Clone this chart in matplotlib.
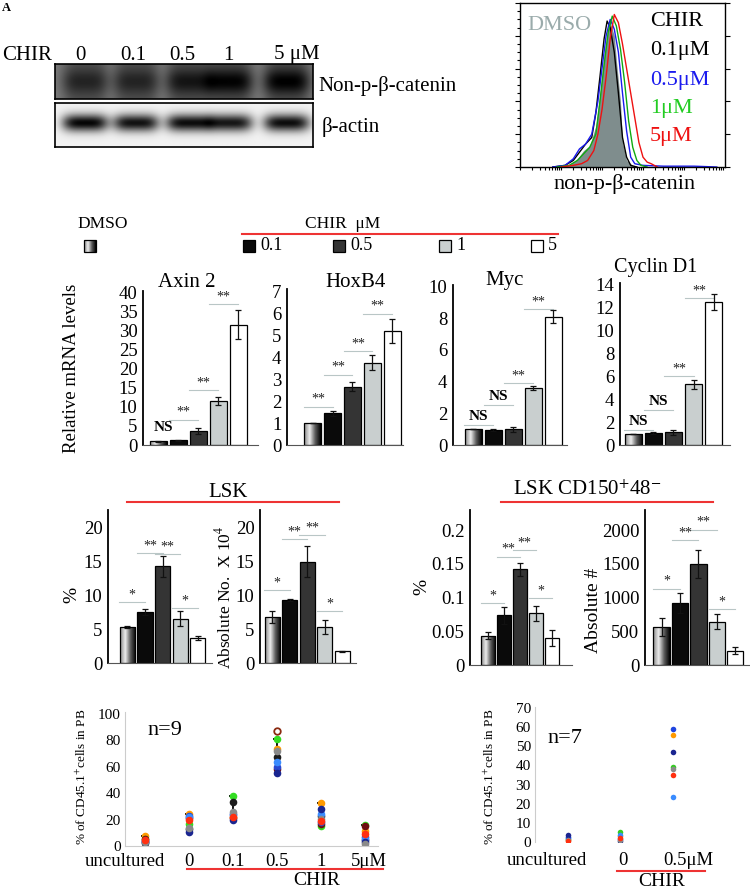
import numpy as np
import matplotlib
matplotlib.use('Agg')
import matplotlib.pyplot as plt
from matplotlib.colors import LinearSegmentedColormap

plt.rcParams['font.family'] = ['Liberation Serif', 'DejaVu Serif']
plt.rcParams['mathtext.fontset'] = 'stix'

W, H = 750, 888

# ---------------- datos ----------------
# western blot (intensidad relativa de banda por carril)
lanes = ['0', '0.1', '0.5', '1', '5 μM']
blot_catenin = [0.55, 0.55, 0.72, 0.92, 0.95]
blot_actin = [1.0, 0.95, 0.97, 0.93, 0.97]

# histogramas de citometria (x en escala log 0-100, y en % del maximo)
hx_dmso = [18, 24, 28, 31, 34, 37, 39, 41, 43, 44, 46, 47, 49, 50, 52, 55, 59]
hy_dmso = [0, 1, 5, 10, 13, 25, 45, 68, 85, 88, 80, 65, 40, 15, 4, 1, 0]
hx_01 = [16, 22, 26, 29, 32, 35, 37, 39, 41, 42.5, 44, 46, 48, 50, 52, 54, 57]
hy_01 = [0, 1, 4, 9, 14, 18, 33, 55, 78, 89, 85, 70, 45, 18, 6, 1, 0]
hx_05 = [16, 22, 26, 29, 32, 35, 38, 40, 42, 44, 46, 48, 50, 52, 54, 56, 60, 70, 85, 96]
hy_05 = [0, 1, 5, 11, 14, 20, 40, 60, 80, 90, 84, 70, 45, 22, 6, 2, 1, 0.5, 0.5, 0]
hx_1 = [18, 24, 28, 31, 34, 37, 39, 41, 43, 45, 47, 49, 51, 53, 55, 57, 59, 62]
hy_1 = [0, 1, 4, 8, 12, 20, 40, 62, 82, 92, 86, 72, 52, 28, 12, 4, 1, 0]
hx_5 = [20, 26, 30, 33, 36, 38, 40, 42, 44, 46, 48, 50, 52, 54, 56, 58, 60, 62, 64, 67]
hy_5 = [0, 1, 2, 4, 10, 20, 35, 55, 78, 93, 88, 75, 60, 45, 30, 15, 6, 3, 2, 0]

# qPCR (DMSO, 0.1, 0.5, 1, 5 uM)
axin2 = [1.0, 1.2, 3.7, 11.5, 31.5]
axin2_err = [0.1, 0.1, 0.8, 1.0, 3.8]
hoxb4 = [1.0, 1.45, 2.65, 3.75, 5.2]
hoxb4_err = [0.0, 0.12, 0.2, 0.35, 0.55]
myc = [1.0, 0.95, 1.0, 3.6, 8.1]
myc_err = [0.0, 0.05, 0.15, 0.12, 0.4]
cyclind1 = [1.0, 1.05, 1.1, 5.3, 12.5]
cyclind1_err = [0.0, 0.1, 0.2, 0.4, 0.7]

# LSK y LSK CD150+48-
lsk_pct = [5.3, 7.5, 14.2, 6.5, 3.7]
lsk_pct_err = [0.2, 0.5, 1.5, 1.1, 0.3]
lsk_abs = [6.8, 9.2, 14.9, 5.3, 1.7]
lsk_abs_err = [0.9, 0.15, 2.3, 1.0, 0.1]
hsc_pct = [0.0435, 0.0735, 0.142, 0.077, 0.0405]
hsc_pct_err = [0.005, 0.013, 0.01, 0.011, 0.012]
hsc_abs = [565, 925, 1500, 640, 210]
hsc_abs_err = [135, 150, 210, 110, 50]

# significancia: (barra i, barra j, altura, texto, dibujar linea)
sig_axin2 = [(0, 1, 2.5, 'NS', False), (1, 2, 6.6, '**', True), (2, 3, 14.3, '**', True), (3, 4, 36.9, '**', True)]
sig_hoxb4 = [(0, 1, 1.74, '**', True), (1, 2, 3.2, '**', True), (2, 3, 4.27, '**', True), (3, 4, 5.98, '**', True)]
sig_myc = [(0, 1, 1.26, 'NS', True), (1, 2, 2.5, 'NS', True), (2, 3, 3.9, '**', True), (3, 4, 8.57, '**', True)]
sig_cyc = [(0, 1, 1.3, 'NS', True), (1, 2, 3.06, 'NS', True), (2, 3, 6.0, '**', True), (3, 4, 12.8, '**', True)]
sig_lsk_pct = [(0, 1, 8.9, '*', True), (1, 2, 16.2, '**', True), (2, 3, 16.0, '**', True), (3, 4, 8.1, '*', True)]
sig_lsk_abs = [(0, 1, 10.7, '*', True), (1, 2, 18.2, '**', True), (2, 3, 18.8, '**', True), (3, 4, 7.6, '*', True)]
sig_hsc_pct = [(0, 1, 0.092, '*', True), (1, 2, 0.161, '**', True), (2, 3, 0.17, '**', True), (3, 4, 0.0995, '*', True)]
sig_hsc_abs = [(0, 1, 1135, '*', True), (1, 2, 1850, '**', True), (2, 3, 2010, '**', True), (3, 4, 825, '*', True)]

# trasplante, n=9 (uncultured, 0, 0.1, 0.5, 1, 5 uM)
pb9_labels = ['uncultured', '0', '0.1', '0.5', '1', '5μM']
pb9_orange = [7.2, 24.5, 22.0, 73.4, 32.7, 11.4]
pb9_green = [5.5, 17.0, 38.0, 81.2, 15.0, 16.2]
pb9_maroon = [5.0, 21.3, 21.3, 58.1, 16.5, 15.2]
pb9_black = [2.0, 12.5, 33.0, 67.3, 22.8, 4.3]
pb9_blue = [3.5, 23.0, 24.6, 59.6, 18.3, 6.9]
pb9_lblue = [4.0, 22.0, 23.4, 63.5, 24.6, 5.6]
pb9_navy = [2.8, 10.5, 19.5, 55.0, 27.7, 3.0]
pb9_gray = [3.0, 14.0, 26.0, 72.0, 20.8, 1.3]
pb9_red = [4.5, 20.0, 21.6, np.nan, 19.0, 8.9]
pb9_open = [np.nan, np.nan, np.nan, 87.3, np.nan, np.nan]

# trasplante, n=7 (uncultured, 0, 0.5 uM)
pb7_labels = ['uncultured', '0', '0.5μM']
pb7_orange = [1.2, 3.0, 56.0]
pb7_green = [1.6, 5.0, 39.2]
pb7_lime = [2.0, 3.8, 23.3]
pb7_blue = [2.6, 1.7, 59.0]
pb7_navy = [3.5, 0.3, 47.2]
pb7_gray = [0.9, 1.2, 38.1]
pb7_red = [0.35, 2.0, 35.2]

# ---------------- figura ----------------
fig = plt.figure(figsize=(W / 100, H / 100), dpi=100)


def px_axes(x0, y0, x1, y1):
    return fig.add_axes([x0 / W, 1 - y1 / H, (x1 - x0) / W, (y1 - y0) / H])


bar_colors = ['none', '#0a0a0a', '#343434', '#c9cfcf', 'white']
dmso_cmap = LinearSegmentedColormap.from_list('dmso', ['#8a8a8a', '#ececec', '#5a5a5a', '#000000'])


def blot(ax, intens, bg, depth, yc, hh, hw, gap):
    xs = np.linspace(0, 258, 300)
    ys = np.linspace(0, 1, 60)
    img = np.full((60, 300), bg)
    for c, a in zip([30, 81, 134, 175, 232], intens):
        img -= gap * np.exp(-((xs - c) / 22) ** 4)[None, :]
        img -= a * depth * np.exp(-((xs - c) / hw) ** 4)[None, :] * np.exp(-((ys - yc) / hh) ** 2)[:, None]
    ax.imshow(np.clip(img, 0, 1), cmap='gray', vmin=0, vmax=1, aspect='auto', extent=[0, 258, 1, 0])
    ax.set_xticks([])
    ax.set_yticks([])
    for s in ax.spines.values():
        s.set_linewidth(1.2)


def bar_panel(rect, vals, errs, ylim, yticks, xlim, sigs, ytlabels=None, width=0.85):
    ax = px_axes(*rect)
    xs = np.arange(len(vals))
    bars = ax.bar(xs, vals, width=width, color=bar_colors, edgecolor='black', linewidth=0.9, zorder=2)
    ax.errorbar(xs, vals, yerr=errs, fmt='none', ecolor='#111111', elinewidth=0.9, capsize=2.5, capthick=0.9, zorder=3)
    b0 = bars[0]
    im = ax.imshow(np.linspace(0, 1, 64)[None, :], cmap=dmso_cmap, aspect='auto', zorder=1.5,
                   extent=[b0.get_x(), b0.get_x() + b0.get_width(), 0, b0.get_height()])
    im.set_clip_path(b0)
    top = ylim[1]
    for i, j, y, lab, line in sigs:
        if line:
            ax.plot([i - 0.45, j], [y, y], color='#b9c6c6', lw=0.8, zorder=1)
        if lab == 'NS':
            ax.text((i - 0.45 + j) / 2, y + top * 0.012, lab, ha='center', va='bottom', fontsize=11, fontweight='bold')
        else:
            ax.text((i - 0.45 + j) / 2, y + top * 0.005, lab, ha='center', va='bottom', fontsize=10, color='#222222')
    ax.set_xlim(*xlim)
    ax.set_ylim(*ylim)
    ax.set_yticks(yticks)
    if ytlabels is not None:
        ax.set_yticklabels(ytlabels)
    ax.set_xticks([])
    ax.tick_params(axis='y', length=0, labelsize=13.5, pad=4)
    ax.spines['top'].set_visible(False)
    ax.spines['right'].set_visible(False)
    ax.spines['left'].set_linewidth(1.3)
    ax.spines['bottom'].set_color('#555555')
    ax.patch.set_alpha(0)
    return ax


# --- A: western blot ---
ax = px_axes(55, 64, 313, 99)
blot(ax, blot_catenin, 0.48, 0.35, 0.5, 0.38, 24, 0.15)
ax = px_axes(55, 103, 313, 147)
blot(ax, blot_actin, 0.95, 0.93, 0.45, 0.2, 23, 0.0)

# --- B: histograma ---
ax = px_axes(520, 3, 725, 167)
ax.fill_between(hx_dmso, hy_dmso, color='#7f8d8d', lw=0, zorder=1)
ax.plot(hx_01, hy_01, color='black', lw=1.0, zorder=2)
ax.plot(hx_05, hy_05, color='#1a1aee', lw=1.0, zorder=2)
ax.plot(hx_1, hy_1, color='#11aa11', lw=1.0, zorder=2)
ax.plot(hx_5, hy_5, color='#ee1111', lw=1.0, zorder=2)
ax.set_xlim(0, 100)
ax.set_ylim(0, 100)
ax.set_yticks(np.arange(0, 101, 20))
ax.set_yticks(np.arange(0, 101, 5), minor=True)
ax.set_xticks([])
ax.set_xticks(np.concatenate([d + 20 * np.log10(np.arange(1, 10)) for d in range(0, 100, 20)]), minor=True)
ax.tick_params(which='both', direction='out', labelleft=False, labelbottom=False, width=0.8)
ax.tick_params(which='major', length=3.5, left=True, right=True)
ax.tick_params(which='minor', length=2, left=True, right=False, bottom=True)
for s in ax.spines.values():
    s.set_linewidth(1.0)

# --- qPCR ---
bar_panel((143, 291, 258, 445), axin2, axin2_err, (0, 40.3), range(0, 41, 5), (-0.75, 5.0), sig_axin2)
bar_panel((287, 289, 403, 445), hoxb4, hoxb4_err, (0, 7.1), range(0, 8), (-1.3, 4.55), sig_hoxb4)
bar_panel((453, 285, 567, 445), myc, myc_err, (0, 10.1), range(0, 11, 2), (-1.0, 4.7), sig_myc)
bar_panel((620, 283, 730, 445), cyclind1, cyclind1_err, (0, 14.15), range(0, 15, 2), (-0.65, 4.8), sig_cyc)

# --- LSK ---
bar_panel((108, 510, 212, 663), lsk_pct, lsk_pct_err, (0, 22.5), range(0, 21, 5), (-1.1, 4.8), sig_lsk_pct, width=0.86)
bar_panel((260, 510, 356, 663), lsk_abs, lsk_abs_err, (0, 22.5), range(0, 21, 5), (-0.7, 4.8), sig_lsk_abs, width=0.86)
bar_panel((470, 510, 572, 665), hsc_pct, hsc_pct_err, (0, 0.23), [0, 0.05, 0.1, 0.15, 0.2], (-1.16, 5.25), sig_hsc_pct,
          ytlabels=['0', '0.05', '0.1', '0.15', '0.2'], width=0.88)
bar_panel((645, 510, 750, 665), hsc_abs, hsc_abs_err, (0, 2300), range(0, 2001, 500), (-0.9, 4.8), sig_hsc_abs, width=0.88)

# --- trasplante n=9 ---
ax = px_axes(125, 712, 378, 846)
pb9 = [pb9_orange, pb9_green, pb9_maroon, pb9_black, pb9_blue, pb9_lblue, pb9_navy, pb9_gray, pb9_red]
pb9_cols = ['#ff9a00', '#33dd22', '#6e0f0f', '#1c1c1c', '#2848d0', '#3a8cff', '#1a2590', '#8a8a8a', '#ff3010']
x9 = np.arange(len(pb9_labels))
arr9 = np.array(pb9)
ax.vlines(x9, np.nanmin(arr9, axis=0), np.nanmax(arr9, axis=0), color='black', lw=1.3, zorder=1)
ax.hlines(np.nanmax(arr9, axis=0), x9 - 0.08, x9 + 0.08, color='black', lw=1.3, zorder=1)
for ys, c in zip(pb9, pb9_cols):
    ax.scatter(x9, ys, s=30, color=c, zorder=2, linewidths=0)
ax.scatter(x9, pb9_open, s=22, facecolor='white', edgecolor='#8b2a10', linewidths=1.3, zorder=3)
ax.set_xlim(-0.45, 5.3)
ax.set_ylim(0, 101.5)
ax.set_yticks(range(0, 101, 20))
ax.set_xticks([-0.45, 1, 2, 3, 4, 5.1])
ax.set_xticklabels(pb9_labels)
ax.tick_params(length=0)
ax.tick_params(axis='y', labelsize=11, pad=3)
ax.tick_params(axis='x', labelsize=13.5, pad=5)
ax.spines['top'].set_visible(False)
ax.spines['right'].set_visible(False)
ax.spines['left'].set_color('#cccccc')
ax.spines['bottom'].set_color('#cccccc')
ax.patch.set_alpha(0)

# --- trasplante n=7 ---
ax = px_axes(535, 707, 720, 842)
pb7 = [pb7_orange, pb7_green, pb7_lime, pb7_blue, pb7_navy, pb7_gray, pb7_red]
pb7_cols = ['#ff9a00', '#33cc22', '#3a8cff', '#1f45e0', '#1a2590', '#8a8a8a', '#ff3010']
x7 = np.arange(len(pb7_labels))
for ys, c in zip(pb7, pb7_cols):
    ax.scatter(x7, ys, s=16, color=c, zorder=2, linewidths=0)
ax.set_xlim(-0.63, 2.9)
ax.set_ylim(0, 70.5)
ax.set_yticks(range(0, 71, 10))
ax.set_xticks([-0.4, 1.05, 2.3])
ax.set_xticklabels(pb7_labels)
ax.tick_params(length=0)
ax.tick_params(axis='y', labelsize=11, pad=3)
ax.tick_params(axis='x', labelsize=13.5, pad=7)
ax.spines['top'].set_visible(False)
ax.spines['right'].set_visible(False)
ax.spines['bottom'].set_visible(False)
ax.spines['left'].set_color('#cccccc')
ax.patch.set_alpha(0)

# --- textos y lineas (coordenadas en pixeles) ---
ov = fig.add_axes([0, 0, 1, 1], zorder=10)
ov.axis('off')

ov.text(6, 8, 'A', fontsize=9, fontweight='bold', ha='center', va='center')
ov.text(27, 55, 'CHIR', fontsize=15, ha='center', va='center')
for xl, lab in zip([80, 133, 182, 228, 297], lanes):
    ov.text(xl, 55, lab, fontsize=15, ha='center', va='center')
ov.text(318, 86, 'Non-p-β-catenin', fontsize=15, ha='left', va='center')
ov.text(322, 127, 'β-actin', fontsize=15, ha='left', va='center')

ov.text(625, 184, 'non-p-β-catenin', fontsize=16, ha='center', va='center')
ov.text(527, 25, 'DMSO', fontsize=16, color='#9aabab', ha='left', va='center')
for yl, lab, c in zip([22, 51, 80, 108, 137], ['CHIR', '0.1μM', '0.5μM', '1μM', '5μM'],
                      ['black', 'black', '#1a1aee', '#22cc22', '#ee1111']):
    ov.text(650, yl, lab, fontsize=16, color=c, ha='left', va='center')

# leyenda de tratamientos
ov.text(103, 224, 'DMSO', fontsize=12.5, ha='center', va='center')
ov.text(343, 224, 'CHIR  μM', fontsize=12.5, ha='center', va='center')
ov.plot([242, 558], [234, 234], color='#ee3333', lw=1.5)
leg_sq = [90, 249, 339, 445, 537]
leg_txt = ['', '0.1', '0.5', '1', '5']
for k, (xs, t) in enumerate(zip(leg_sq, leg_txt)):
    if k == 0:
        ov.imshow(np.linspace(0, 1, 32)[None, :], cmap=dmso_cmap, extent=[xs - 6, xs + 6, 252, 240], aspect='auto')
        ov.add_patch(plt.Rectangle((xs - 6, 240), 12, 12, fill=False, ec='black', lw=0.9))
    else:
        ov.add_patch(plt.Rectangle((xs - 6, 240), 12, 12, fc=bar_colors[k], ec='black', lw=0.9))
        ov.text(xs + 11, 245, t, fontsize=13, ha='left', va='center')
ov.set_xlim(0, W)
ov.set_ylim(H, 0)

ov.text(72, 368, 'Relative mRNA levels', fontsize=13.5, rotation=90, ha='center', va='center')
for xt, yt, t, fs in [(187, 282, 'Axin 2', 15), (356, 282, 'HoxB4', 15), (505, 280, 'Myc', 15),
                      (656, 267, 'Cyclin D1', 14.5)]:
    ov.text(xt, yt, t, fontsize=fs, ha='center', va='center')

ov.text(228, 492, 'LSK', fontsize=15, ha='center', va='center')
ov.plot([127, 339], [502, 502], color='#ee3333', lw=1.5)
ov.text(587, 490, 'LSK CD150$^{+}$48$^{-}$', fontsize=15, ha='center', va='center')
ov.plot([501, 713], [502, 502], color='#ee3333', lw=1.5)
ov.text(72, 595, '%', fontsize=14, rotation=90, ha='center', va='center')
ov.text(224, 597, 'Absolute No.  X 10$^4$', fontsize=12.5, rotation=90, ha='center', va='center')
ov.text(422, 587, '%', fontsize=14, rotation=90, ha='center', va='center')
ov.text(593, 610, 'Absolute #', fontsize=14, rotation=90, ha='center', va='center')

ov.text(147, 730, 'n=9', fontsize=16, ha='left', va='center')
ov.text(82, 777, '% of CD45.1$^{+}$cells in PB', fontsize=9.5, rotation=90, ha='center', va='center')
ov.plot([187, 383], [869, 869], color='#ee3333', lw=1.5)
ov.text(317, 880, 'CHIR', fontsize=14, ha='center', va='center')

ov.text(547, 738, 'n=7', fontsize=16, ha='left', va='center')
ov.text(490, 777, '% of CD45.1$^{+}$cells in PB', fontsize=9.5, rotation=90, ha='center', va='center')
ov.plot([617, 705], [871, 871], color='#ee3333', lw=1.5)
ov.text(662, 881, 'CHIR', fontsize=14, ha='center', va='center')

fig.savefig('out.png', dpi=100)
